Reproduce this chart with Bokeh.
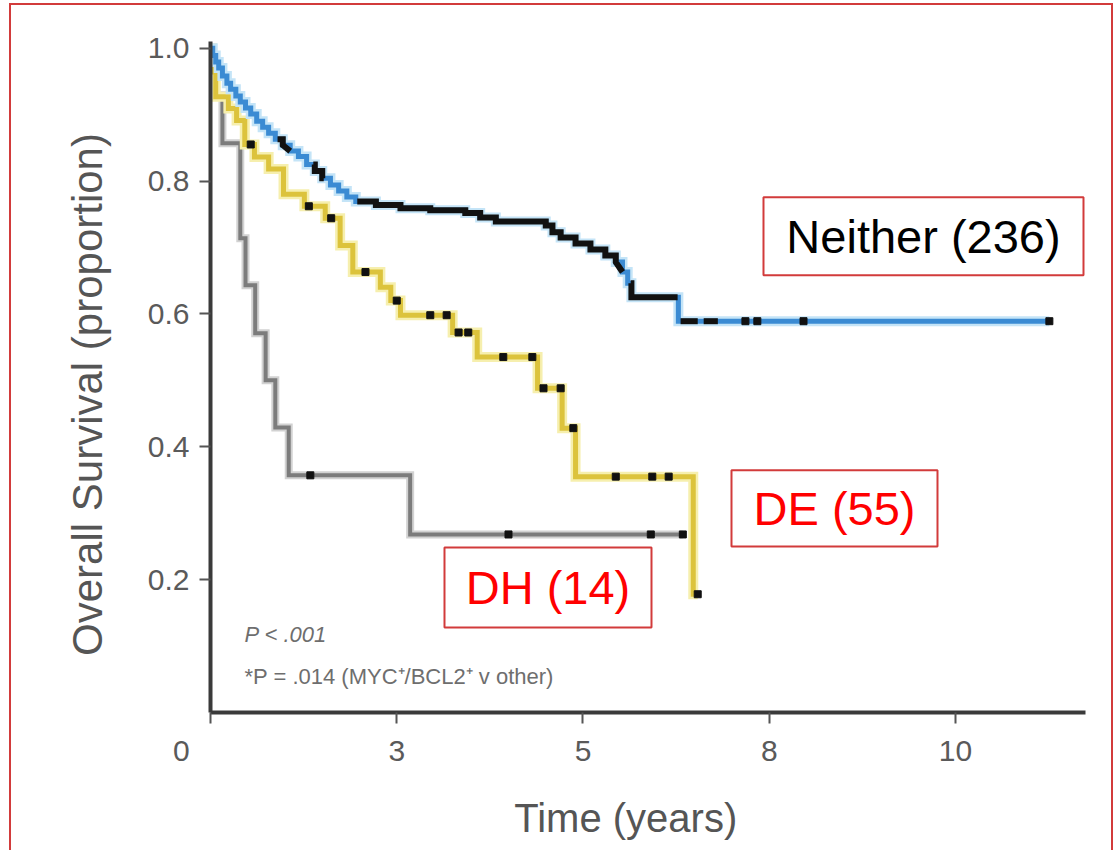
import numpy as np
from bokeh.plotting import figure
from bokeh.models import Label, FixedTicker, Range1d, BoxAnnotation
from bokeh.embed import file_html
from bokeh.resources import INLINE

# Kaplan-Meier estimates: event times (years) and survival after each event
neither_times = [0.03, 0.07, 0.11, 0.16, 0.22, 0.27, 0.34, 0.40, 0.47, 0.54,
                 0.62, 0.70, 0.78, 0.87, 0.97, 1.07, 1.18, 1.29, 1.40, 1.50,
                 1.61, 1.72, 1.83, 1.95, 2.22, 2.55, 2.95, 3.42, 3.62, 3.83,
                 4.50, 4.59, 4.70, 4.90, 5.10, 5.30, 5.44, 5.53, 5.60, 5.65, 6.28]
neither_surv = [0.989, 0.979, 0.970, 0.958, 0.947, 0.938, 0.928, 0.919, 0.910, 0.901,
                0.890, 0.881, 0.872, 0.863, 0.854, 0.845, 0.837, 0.825, 0.815, 0.804,
                0.794, 0.785, 0.776, 0.769, 0.764, 0.759, 0.756, 0.752, 0.745, 0.739,
                0.733, 0.723, 0.715, 0.706, 0.697, 0.688, 0.678, 0.663, 0.646, 0.625, 0.589]
neither_last = 11.26
neither_censored = [7.18, 7.34, 7.96, 11.26]
# stretches where censor ticks sit so close together they merge into a solid run
neither_dense_censoring = [(0.90, 1.07), (1.38, 1.52), (1.97, 5.53), (5.64, 6.27),
                           (6.31, 6.54), (6.62, 6.81)]

de_times = [0.02, 0.07, 0.24, 0.35, 0.46, 0.59, 0.78, 0.98, 1.26, 1.54, 1.74,
            1.91, 2.28, 2.42, 2.55, 3.25, 3.58, 4.39, 4.72, 4.90, 6.48]
de_surv = [0.964, 0.927, 0.909, 0.891, 0.855, 0.836, 0.818, 0.780, 0.762, 0.744, 0.703,
           0.663, 0.640, 0.620, 0.598, 0.572, 0.535, 0.488, 0.428, 0.355, 0.178]
de_last = 6.54
de_censored = [0.54, 1.32, 1.62, 2.08, 2.50, 2.95, 3.17, 3.33, 3.46, 3.93,
               4.32, 4.47, 4.70, 4.87, 5.44, 5.93, 6.15, 6.54]

dh_times = [0.03, 0.16, 0.40, 0.47, 0.60, 0.74, 0.87, 1.05, 2.68]
dh_surv = [0.929, 0.857, 0.714, 0.643, 0.571, 0.500, 0.429, 0.357, 0.268]
dh_last = 6.34
dh_censored = [1.34, 4.00, 5.91, 6.34]

NBSP = "\u00a0"
x_ticks = [0.0, 2.5, 5.0, 7.5, 10.0]
# the origin label sits left of the corner, so it is padded on its right
x_tick_labels = ["0" + NBSP * 7, "3", "5", "8", "10"]
y_ticks = [0.2, 0.4, 0.6, 0.8, 1.0]
y_tick_labels = ["0.2", "0.4", "0.6", "0.8", "1.0"]


def level_at(times, surv, t):
    i = int(np.searchsorted(times, t, side="right"))
    return 1.0 if i == 0 else surv[i - 1]


def staircase(times, surv, t_end):
    xs, ys = [0.0], [1.0]
    for t, s in zip(times, surv):
        xs += [t, t]
        ys += [ys[-1], s]
    xs.append(t_end)
    ys.append(ys[-1])
    return xs, ys


def window(times, surv, t0, t1):
    xs, ys = [t0], [level_at(times, surv, t0)]
    for t, s in zip(times, surv):
        if t0 < t < t1:
            xs += [t, t]
            ys += [ys[-1], s]
    xs.append(t1)
    ys.append(level_at(times, surv, t1))
    return xs, ys


p = figure(width=1115, height=850, output_backend="svg", toolbar_location=None,
           x_range=Range1d(0, 11.745), y_range=Range1d(0, 1.01),
           min_border_left=210, min_border_right=30,
           min_border_top=41, min_border_bottom=138)
p.outline_line_color = None
p.xgrid.visible = False
p.ygrid.visible = False
p.background_fill_color = "white"
p.border_fill_color = None
# thin red frame around the whole figure, painted behind the canvas
red = "#d23b3b"
p.styles = {
    "background": (
        f"linear-gradient({red},{red}) 9px 3px / 2px 900px no-repeat, "
        f"linear-gradient({red},{red}) 9px 3px / 1104px 2px no-repeat, "
        f"linear-gradient({red},{red}) 1111px 3px / 2px 900px no-repeat, white"
    )
}

label_gray = "#555555"
for ax in (p.xaxis[0], p.yaxis[0]):
    ax.axis_line_width = 4
    ax.axis_line_color = "#3a3a3a"
    ax.major_tick_line_color = "#555555"
    ax.major_tick_line_width = 2
    ax.major_tick_in = 0
    ax.major_tick_out = 11
    ax.minor_tick_line_color = None
    ax.major_label_text_font = "Liberation Sans"
    ax.major_label_text_font_size = "30px"
    ax.major_label_text_color = "#5a5a5a"
    ax.major_label_standoff = 10
    ax.axis_label_text_font = "Liberation Sans"
    ax.axis_label_text_font_style = "normal"
    ax.axis_label_text_color = label_gray

p.xaxis.ticker = FixedTicker(ticks=x_ticks)
p.xaxis.major_label_overrides = dict(zip(x_ticks, x_tick_labels))
p.yaxis.ticker = FixedTicker(ticks=y_ticks)
p.yaxis.major_label_overrides = dict(zip(y_ticks, y_tick_labels))

p.xaxis.axis_label = "Time (years)" + NBSP * 4
p.xaxis.axis_label_text_font_size = "40px"
p.xaxis.axis_label_standoff = 26
p.yaxis.axis_label = "Overall Survival (proportion)" + NBSP * 3
p.yaxis.axis_label_text_font_size = "42px"
p.yaxis.axis_label_standoff = 34

# survival curves (soft halo underneath each line)
dh_x, dh_y = staircase(dh_times, dh_surv, dh_last)
de_x, de_y = staircase(de_times, de_surv, de_last)
ne_x, ne_y = staircase(neither_times, neither_surv, neither_last)

p.line(dh_x, dh_y, line_color="#d2d2d2", line_width=8, line_join="miter")
p.line(dh_x, dh_y, line_color="#7c7c7c", line_width=4, line_join="miter")
p.line(de_x, de_y, line_color="#f6efae", line_width=10, line_join="miter")
p.line(de_x, de_y, line_color="#dcc33c", line_width=5, line_join="miter")
p.line(ne_x, ne_y, line_color="#c4e4f7", line_width=10, line_join="miter")
p.line(ne_x, ne_y, line_color="#3b8bd3", line_width=5, line_join="miter")

# solid runs of censor ticks on the Neither curve
runs = [window(neither_times, neither_surv, a, b) for a, b in neither_dense_censoring]
p.multi_line([r[0] for r in runs], [r[1] for r in runs],
             line_color="#111111", line_width=6, line_join="miter")

# individual censor marks
for times, surv, cens in ((dh_times, dh_surv, dh_censored),
                          (de_times, de_surv, de_censored),
                          (neither_times, neither_surv, neither_censored)):
    cy = [level_at(times, surv, c) for c in cens]
    p.scatter(cens, cy, marker="square", size=7, fill_color="#111111",
              line_color="#111111")


# pixel -> data helpers for annotation placement inside the plot area
def dx(px):
    return (px - 210) / 74.5


def dy(py):
    return (712 - py) / 664.0


p.add_layout(Label(x=dx(244), y=dy(634), text="P < .001", text_align="left",
                   text_baseline="middle", text_font="Liberation Sans",
                   text_font_style="italic", text_font_size="22px",
                   text_color="#6e6e6e"))
p.add_layout(Label(x=dx(244), y=dy(676), text="*P = .014 (MYC\u207a/BCL2\u207a v other)",
                   text_align="left", text_baseline="middle",
                   text_font="Liberation Sans", text_font_size="22px",
                   text_color="#6e6e6e"))

# group boxes
boxes = [
    ("Neither (236)", "black", 763, 1083, 197, 275),
    ("DE (55)", "#ff0000", 731, 937, 470, 546),
    ("DH (14)", "#ff0000", 444, 651, 547, 627),
]
for text, color, l, r, t, b in boxes:
    p.add_layout(BoxAnnotation(left=dx(l), right=dx(r), top=dy(t), bottom=dy(b),
                               fill_color="white", fill_alpha=1.0,
                               line_color=red, line_alpha=1.0, line_width=2))
for text, color, l, r, t, b in boxes:
    p.add_layout(Label(x=dx((l + r) / 2), y=dy((t + b) / 2), text=text,
                       text_align="center", text_baseline="middle",
                       text_font="Liberation Sans", text_font_size="47px",
                       text_color=color))

open("out.html", "w").write(file_html(p, INLINE))
